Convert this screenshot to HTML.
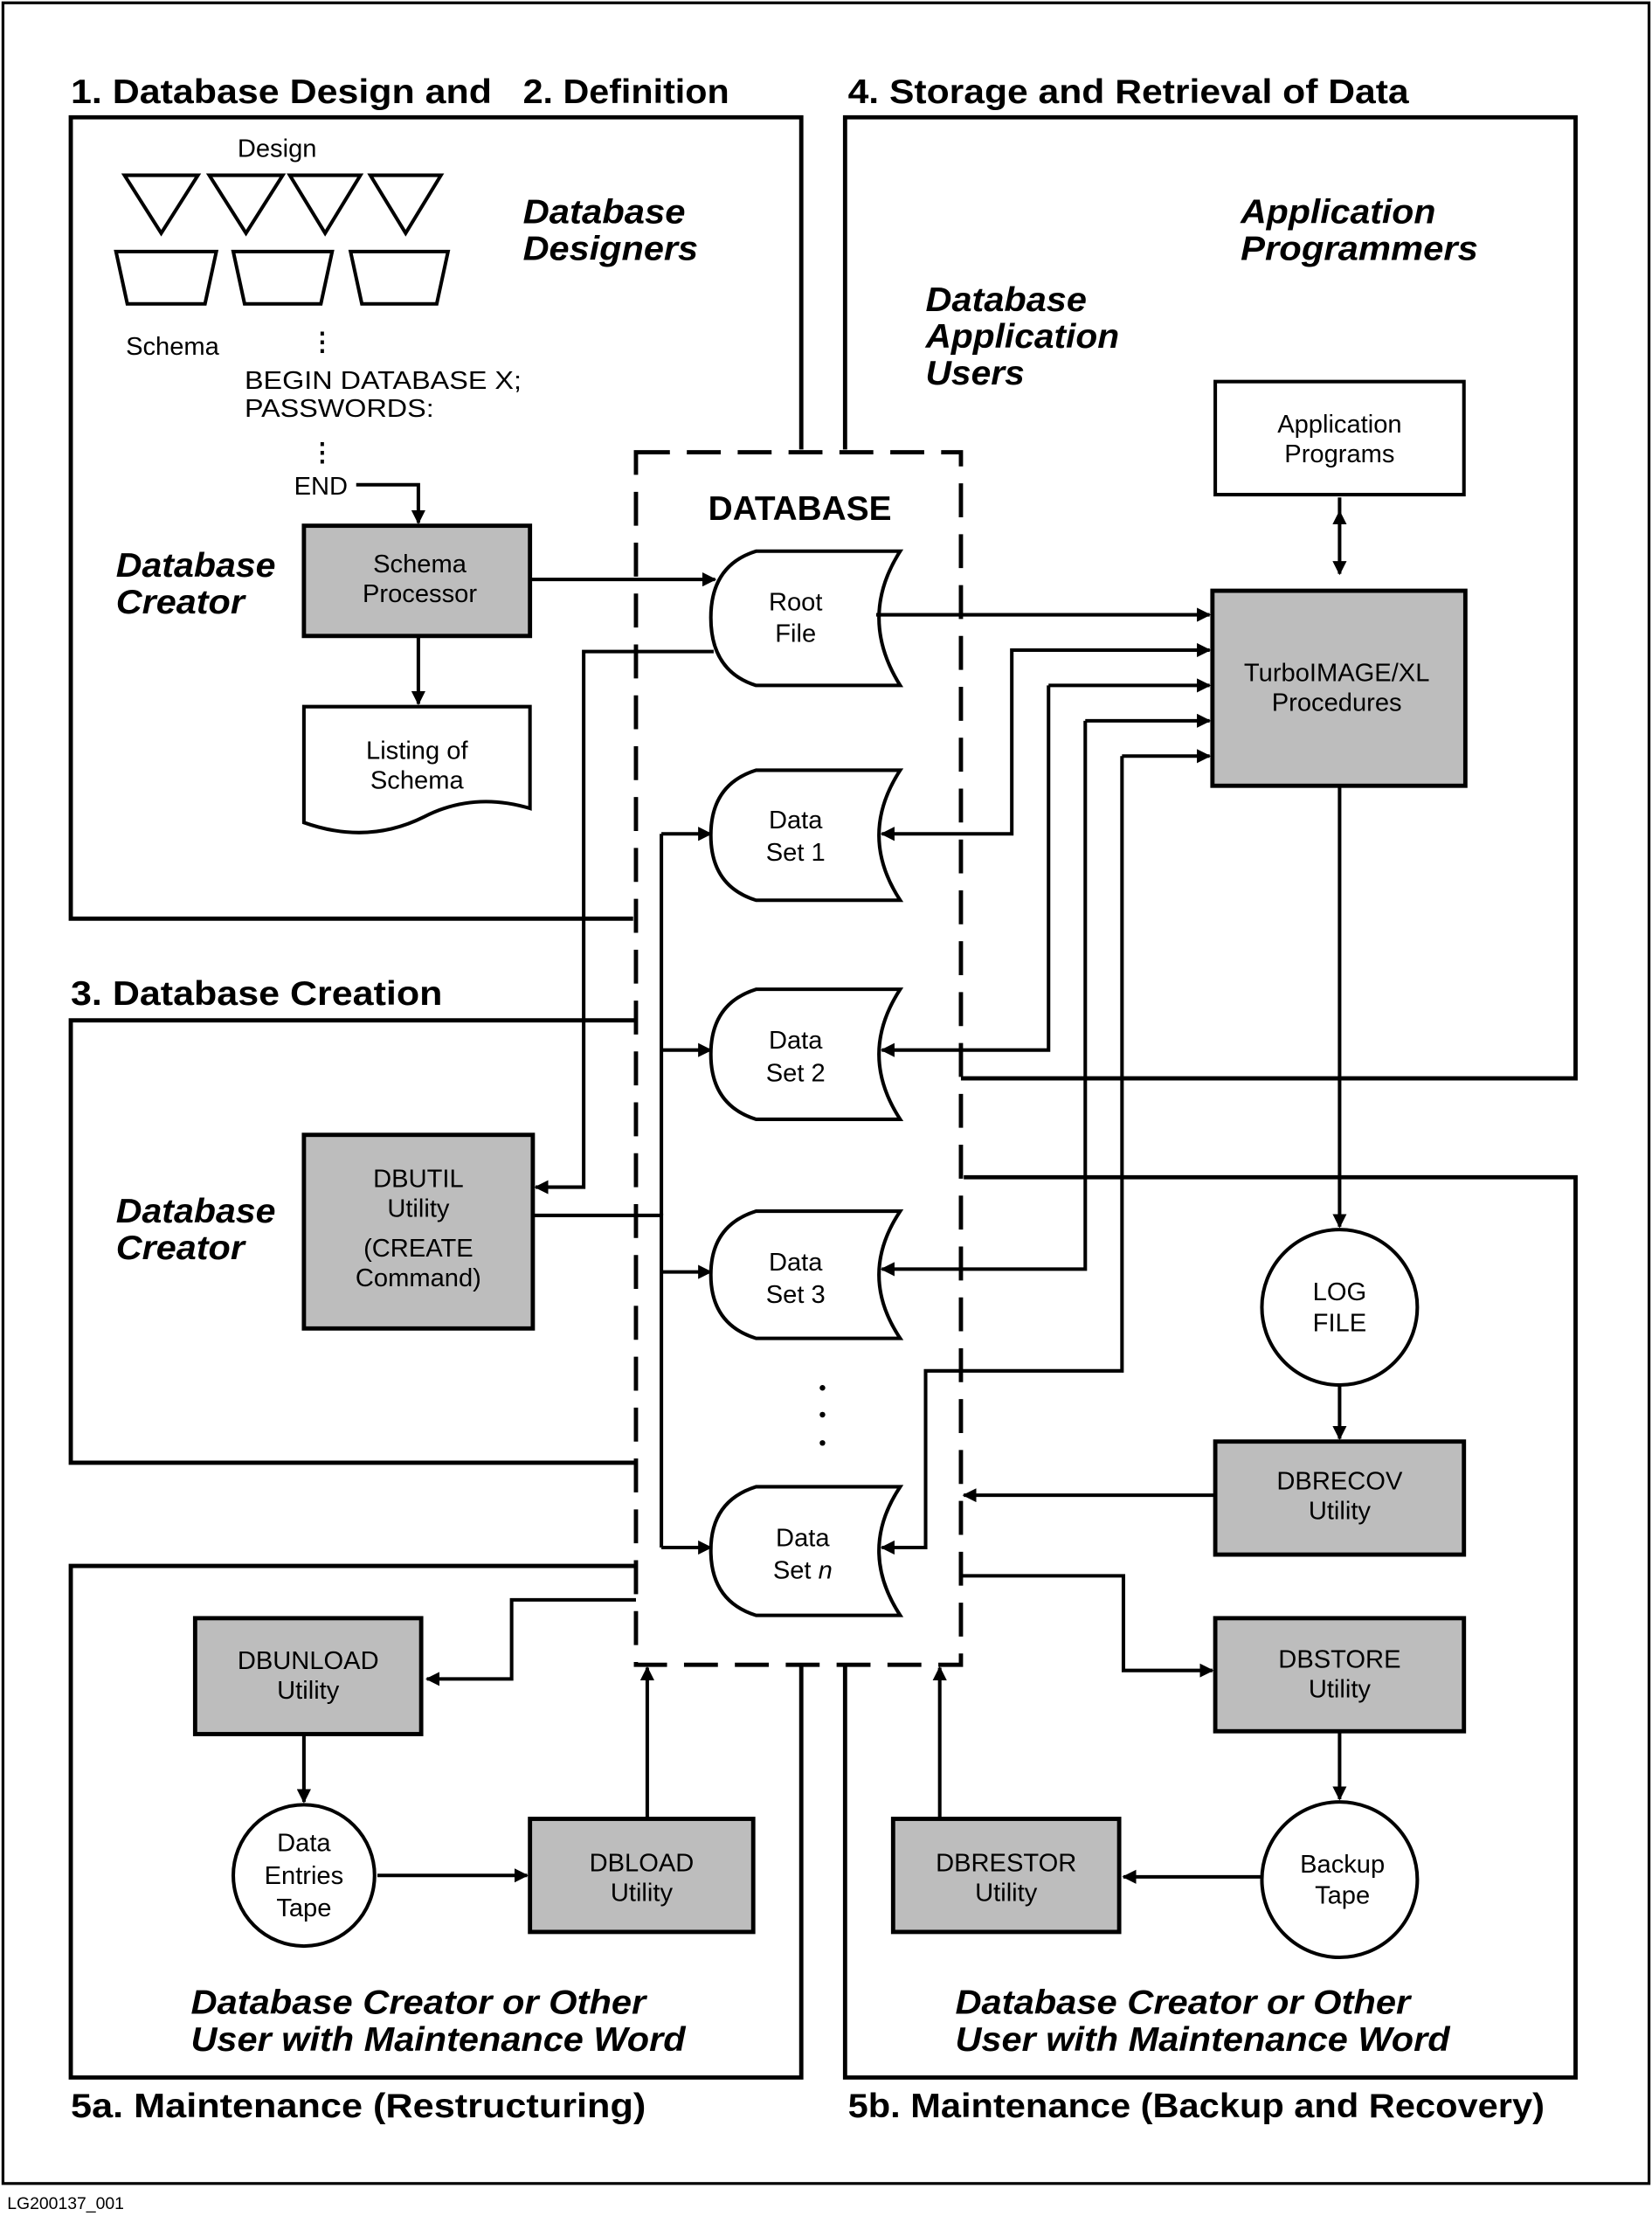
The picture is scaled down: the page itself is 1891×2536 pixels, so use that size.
<!DOCTYPE html>
<html><head><meta charset="utf-8"><style>
html,body{margin:0;padding:0;background:#fff}
svg{display:block}
text{font-family:"Liberation Sans",Arial,sans-serif;fill:#000}
.t{font-weight:bold;font-size:24px}
.i{font-weight:bold;font-style:italic;font-size:24px}
.n{font-size:18px}
.l{stroke:#000;stroke-width:3;fill:none}
.b{stroke:#000;stroke-width:2.5;fill:none}
.s{stroke:#000;stroke-width:3;fill:#bdbdbd}
</style></head><body>
<svg width="1891" height="2536" viewBox="0 0 1169 1568" xmlns="http://www.w3.org/2000/svg">
<defs>
<marker id="a" markerWidth="10" markerHeight="10" refX="9" refY="5" orient="auto" markerUnits="userSpaceOnUse">
<path d="M0,0 L10,5 L0,10 z" fill="#000"/></marker>
<marker id="as" markerWidth="10" markerHeight="10" refX="1" refY="5" orient="auto" markerUnits="userSpaceOnUse">
<path d="M10,0 L0,5 L10,10 z" fill="#000"/></marker>
</defs>
<rect x="2" y="2" width="1165" height="1543" fill="none" stroke="#000" stroke-width="2"/>
<text x="5" y="1563" font-size="12">LG200137_001</text>

<!-- titles -->
<text class="t" x="50" y="73" textLength="298" lengthAdjust="spacingAndGlyphs">1.  Database Design and</text>
<text class="t" x="370" y="73" textLength="146" lengthAdjust="spacingAndGlyphs">2. Definition</text>
<text class="t" x="600" y="73" textLength="397" lengthAdjust="spacingAndGlyphs">4.  Storage and Retrieval of Data</text>
<text class="t" x="50" y="711" textLength="263" lengthAdjust="spacingAndGlyphs">3.  Database Creation</text>
<text class="t" x="50" y="1498" textLength="407" lengthAdjust="spacingAndGlyphs">5a.   Maintenance (Restructuring)</text>
<text class="t" x="600" y="1498" textLength="493" lengthAdjust="spacingAndGlyphs">5b. Maintenance (Backup and Recovery)</text>

<!-- region boxes -->
<path class="l" d="M448,650 H50 V83 H567 V318"/>
<path class="l" d="M598,318 V83 H1115 V763 H680"/>
<path class="l" d="M450,722 H50 V1035 H450"/>
<path class="l" d="M450,1108 H50 V1470 H567 V1178"/>
<path class="l" d="M682,833 H1115 V1470 H598 V1178"/>

<!-- database dashed -->
<rect x="450" y="320" width="230" height="858" fill="none" stroke="#000" stroke-width="3" stroke-dasharray="24,12"/>
<text class="t" x="566" y="368" text-anchor="middle">DATABASE</text>

<!-- design shapes -->
<g class="b">
<path d="M88,124 H140 L114,165 Z"/><path d="M148,124 H200 L174,165 Z"/>
<path d="M205,124 H255 L230,165 Z"/><path d="M262,124 H312 L287,165 Z"/>
<path d="M82,178 H153 L145,215 H90 Z"/><path d="M165,178 H235 L227,215 H173 Z"/>
<path d="M248,178 H317 L309,215 H256 Z"/>
</g>
<text class="n" x="196" y="111" text-anchor="middle">Design</text>
<text class="n" x="122" y="251" text-anchor="middle">Schema</text>
<text class="n" x="228" y="248" text-anchor="middle" font-weight="bold">⋮</text>
<text class="n" x="173" y="275" textLength="196" lengthAdjust="spacingAndGlyphs">BEGIN DATABASE X;</text>
<text class="n" x="173" y="295" textLength="134" lengthAdjust="spacingAndGlyphs">PASSWORDS:</text>
<text class="n" x="228" y="326" text-anchor="middle" font-weight="bold">⋮</text>
<text class="n" x="208" y="350">END</text>
<path class="b" d="M252,343 H296 V370" marker-end="url(#a)"/>

<text class="i" x="82" y="408" textLength="113" lengthAdjust="spacingAndGlyphs">Database</text><text class="i" x="82" y="434" textLength="91" lengthAdjust="spacingAndGlyphs">Creator</text>
<text class="i" x="370" y="158" textLength="115" lengthAdjust="spacingAndGlyphs">Database</text><text class="i" x="370" y="184" textLength="124" lengthAdjust="spacingAndGlyphs">Designers</text>
<text class="i" x="878" y="158" textLength="138" lengthAdjust="spacingAndGlyphs">Application</text><text class="i" x="878" y="184" textLength="168" lengthAdjust="spacingAndGlyphs">Programmers</text>
<text class="i" x="655" y="220" textLength="114" lengthAdjust="spacingAndGlyphs">Database</text><text class="i" x="655" y="246" textLength="137" lengthAdjust="spacingAndGlyphs">Application</text><text class="i" x="655" y="272" textLength="70" lengthAdjust="spacingAndGlyphs">Users</text>
<text class="i" x="82" y="865" textLength="113" lengthAdjust="spacingAndGlyphs">Database</text><text class="i" x="82" y="891" textLength="91" lengthAdjust="spacingAndGlyphs">Creator</text>
<text class="i" x="135" y="1425" textLength="322" lengthAdjust="spacingAndGlyphs">Database Creator or Other</text><text class="i" x="135" y="1451" textLength="350" lengthAdjust="spacingAndGlyphs">User with Maintenance Word</text>
<text class="i" x="676" y="1425" textLength="322" lengthAdjust="spacingAndGlyphs">Database Creator or Other</text><text class="i" x="676" y="1451" textLength="350" lengthAdjust="spacingAndGlyphs">User with Maintenance Word</text>

<!-- schema processor -->
<rect class="s" x="215" y="372" width="160" height="78"/>
<text class="n" x="297" y="405" text-anchor="middle">Schema</text><text class="n" x="297" y="426" text-anchor="middle">Processor</text>
<path class="b" d="M375,410 H506" marker-end="url(#a)"/>
<path class="b" d="M296,450 V498" marker-end="url(#a)"/>
<path class="b" d="M215,500 H375 V572 Q335,560 300,578 Q260,598 215,582 Z" stroke-width="3"/>
<text class="n" x="295" y="537" text-anchor="middle">Listing  of</text><text class="n" x="295" y="558" text-anchor="middle">Schema</text>

<!-- datasets -->
<g class="b" stroke-width="3">
<path d="M535,390 H637 Q607,437 637,485 H535 Q503,475 503,437 Q503,400 535,390 Z"/>
<path d="M535,545 H637 Q607,591 637,637 H535 Q503,627 503,591 Q503,555 535,545 Z"/>
<path d="M535,700 H637 Q607,746 637,792 H535 Q503,782 503,746 Q503,710 535,700 Z"/>
<path d="M535,857 H637 Q607,902 637,947 H535 Q503,937 503,902 Q503,867 535,857 Z"/>
<path d="M535,1052 H637 Q607,1097 637,1143 H535 Q503,1133 503,1097 Q503,1062 535,1052 Z"/>
</g>
<text class="n" x="563" y="432" text-anchor="middle">Root</text><text class="n" x="563" y="454" text-anchor="middle">File</text>
<text class="n" x="563" y="586" text-anchor="middle">Data</text><text class="n" x="563" y="609" text-anchor="middle">Set 1</text>
<text class="n" x="563" y="742" text-anchor="middle">Data</text><text class="n" x="563" y="765" text-anchor="middle">Set 2</text>
<text class="n" x="563" y="899" text-anchor="middle">Data</text><text class="n" x="563" y="922" text-anchor="middle">Set 3</text>
<text class="n" x="568" y="1094" text-anchor="middle">Data</text><text class="n" x="568" y="1117" text-anchor="middle">Set <tspan font-style="italic">n</tspan></text>
<g fill="#000"><circle cx="582" cy="982" r="2"/><circle cx="582" cy="1001" r="2"/><circle cx="582" cy="1021" r="2"/></g>

<!-- app programs & turbo -->
<rect class="b" x="860" y="270" width="176" height="80" stroke-width="3"/>
<text class="n" x="948" y="306" text-anchor="middle">Application</text><text class="n" x="948" y="327" text-anchor="middle">Programs</text>
<path class="b" d="M948,362 V406" marker-end="url(#a)" marker-start="url(#as)"/>
<path class="b" d="M948,352 V362"/>
<rect class="s" x="858" y="418" width="179" height="138"/>
<text class="n" x="946" y="482" text-anchor="middle">TurboIMAGE/XL</text><text class="n" x="946" y="503" text-anchor="middle">Procedures</text>

<path class="b" d="M620,435 H856" marker-end="url(#a)"/>
<path class="b" d="M856,460 H716 V590 H624" marker-end="url(#a)"/>
<path class="b" d="M716,460 H856" marker-end="url(#a)"/>
<path class="b" d="M742,485 H856" marker-end="url(#a)"/>
<path class="b" d="M742,485 V743 H624" marker-end="url(#a)"/>
<path class="b" d="M768,510 H856" marker-end="url(#a)"/>
<path class="b" d="M768,510 V898 H624" marker-end="url(#a)"/>
<path class="b" d="M794,535 H856" marker-end="url(#a)"/>
<path class="b" d="M794,535 V970 H655 V1095 H624" marker-end="url(#a)"/>

<!-- left connections -->
<path class="b" d="M505,461 H413 V840 H379" marker-end="url(#a)"/>
<rect class="s" x="215" y="803" width="162" height="137"/>
<text class="n" x="296" y="840" text-anchor="middle">DBUTIL</text><text class="n" x="296" y="861" text-anchor="middle">Utility</text>
<text class="n" x="296" y="889" text-anchor="middle">(CREATE</text><text class="n" x="296" y="910" text-anchor="middle">Command)</text>
<path class="b" d="M377,860 H468 V1095"/>
<path class="b" d="M468,590 V860"/>
<path class="b" d="M468,590 H503" marker-end="url(#a)"/>
<path class="b" d="M468,743 H503" marker-end="url(#a)"/>
<path class="b" d="M468,900 H503" marker-end="url(#a)"/>
<path class="b" d="M468,1095 H503" marker-end="url(#a)"/>

<!-- log & recovery -->
<path class="b" d="M948,556 V868" marker-end="url(#a)"/>
<circle class="b" cx="948" cy="925" r="55" stroke-width="3"/>
<text class="n" x="948" y="920" text-anchor="middle">LOG</text><text class="n" x="948" y="942" text-anchor="middle">FILE</text>
<path class="b" d="M948,980 V1018" marker-end="url(#a)"/>
<rect class="s" x="860" y="1020" width="176" height="80"/>
<text class="n" x="948" y="1054" text-anchor="middle">DBRECOV</text><text class="n" x="948" y="1075" text-anchor="middle">Utility</text>
<path class="b" d="M860,1058 H682" marker-end="url(#a)"/>
<path class="b" d="M680,1115 H795 V1182 H858" marker-end="url(#a)"/>
<rect class="s" x="860" y="1145" width="176" height="80"/>
<text class="n" x="948" y="1180" text-anchor="middle">DBSTORE</text><text class="n" x="948" y="1201" text-anchor="middle">Utility</text>
<path class="b" d="M948,1225 V1273" marker-end="url(#a)"/>
<circle class="b" cx="948" cy="1330" r="55" stroke-width="3"/>
<text class="n" x="950" y="1325" text-anchor="middle">Backup</text><text class="n" x="950" y="1347" text-anchor="middle">Tape</text>
<path class="b" d="M893,1328 H795" marker-end="url(#a)"/>
<rect class="s" x="632" y="1287" width="160" height="80"/>
<text class="n" x="712" y="1324" text-anchor="middle">DBRESTOR</text><text class="n" x="712" y="1345" text-anchor="middle">Utility</text>
<path class="b" d="M665,1287 V1180" marker-end="url(#a)"/>

<!-- 5a -->
<path class="b" d="M450,1132 H362 V1188 H302" marker-end="url(#a)"/>
<rect class="s" x="138" y="1145" width="160" height="82"/>
<text class="n" x="218" y="1181" text-anchor="middle">DBUNLOAD</text><text class="n" x="218" y="1202" text-anchor="middle">Utility</text>
<path class="b" d="M215,1227 V1275" marker-end="url(#a)"/>
<circle class="b" cx="215" cy="1327" r="50" stroke-width="3"/>
<text class="n" x="215" y="1310" text-anchor="middle">Data</text><text class="n" x="215" y="1333" text-anchor="middle">Entries</text><text class="n" x="215" y="1356" text-anchor="middle">Tape</text>
<path class="b" d="M267,1327 H373" marker-end="url(#a)"/>
<rect class="s" x="375" y="1287" width="158" height="80"/>
<text class="n" x="454" y="1324" text-anchor="middle">DBLOAD</text><text class="n" x="454" y="1345" text-anchor="middle">Utility</text>
<path class="b" d="M458,1287 V1180" marker-end="url(#a)"/>
</svg>
</body></html>
